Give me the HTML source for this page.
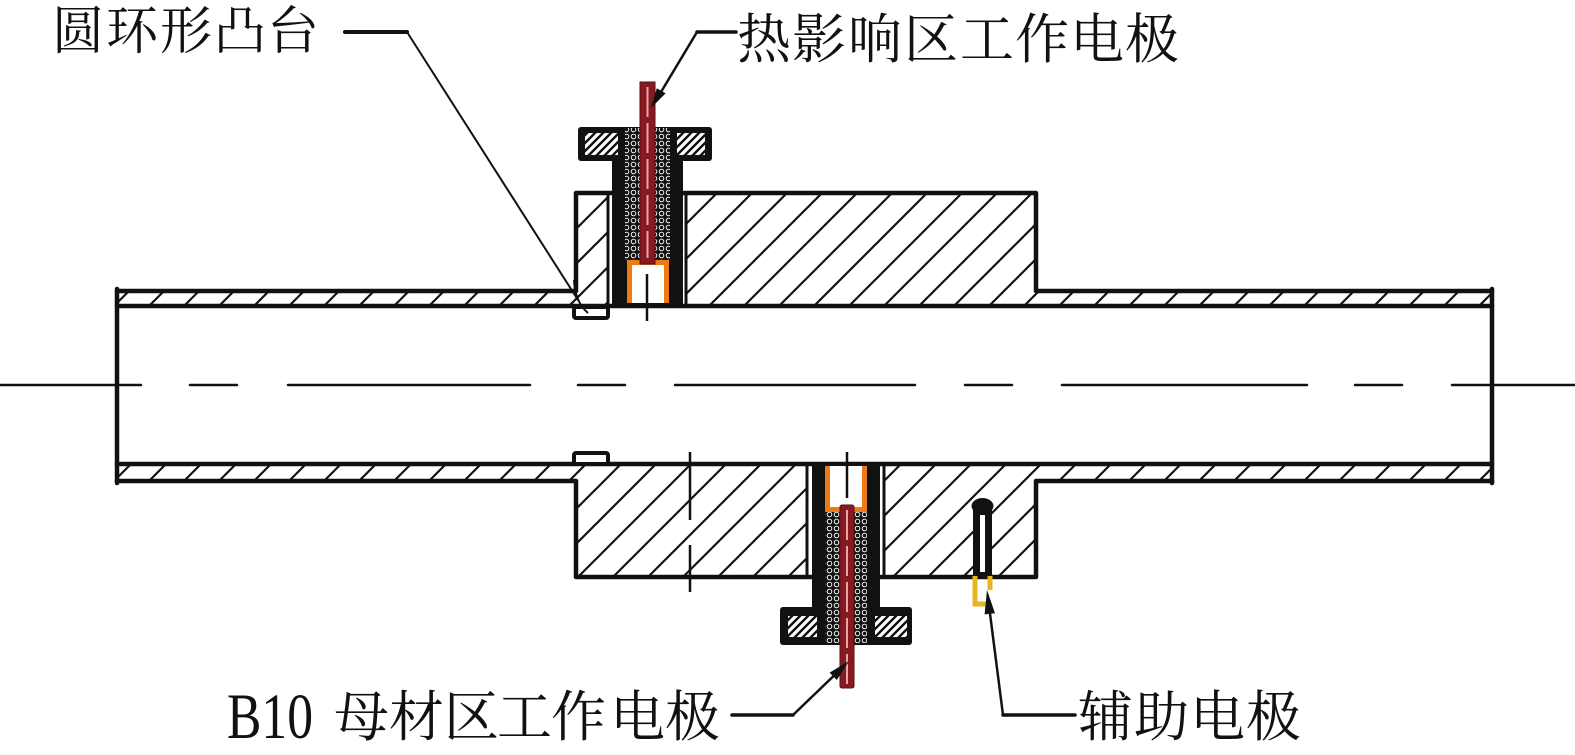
<!DOCTYPE html>
<html>
<head>
<meta charset="utf-8">
<style>
html,body{margin:0;padding:0;background:#fff;}
svg{display:block;}
text{font-family:"Liberation Serif","Noto Serif CJK SC","Noto Sans CJK SC",serif;fill:#111;}
</style>
</head>
<body>
<svg width="1575" height="755" viewBox="0 0 1575 755" xmlns="http://www.w3.org/2000/svg">
<defs>
  <pattern id="h" patternUnits="userSpaceOnUse" width="35" height="35">
    <path d="M0,35 L35,0 M-5,5 L5,-5 M30,40 L40,30" stroke="#111" stroke-width="2.2" fill="none"/>
  </pattern>
  <pattern id="hf" patternUnits="userSpaceOnUse" width="8" height="8">
    <rect width="8" height="8" fill="#fff"/>
    <path d="M0,8 L8,0 M-2,2 L2,-2 M6,10 L10,6" stroke="#111" stroke-width="2.4" fill="none"/>
  </pattern>
  <pattern id="m" patternUnits="userSpaceOnUse" width="7" height="7">
    <rect width="7" height="7" fill="#111"/>
    <circle cx="3.5" cy="3.5" r="2.3" fill="none" stroke="#fff" stroke-width="0.9"/>
  </pattern>
</defs>
<rect width="1575" height="755" fill="#fff"/>

<!-- hatch fills -->
<rect x="117" y="291" width="459" height="15" fill="url(#h)"/>
<rect x="1036" y="291" width="456" height="15" fill="url(#h)"/>
<rect x="117" y="464" width="459" height="17" fill="url(#h)"/>
<rect x="1036" y="464" width="456" height="17" fill="url(#h)"/>
<rect x="576" y="193" width="460" height="113" fill="url(#h)"/>
<rect x="576" y="464" width="460" height="113" fill="url(#h)"/>

<!-- hole clear areas -->
<rect x="608" y="193" width="78" height="113" fill="#fff"/>
<rect x="807" y="464" width="77" height="113" fill="#fff"/>

<!-- outlines -->
<g stroke="#111" stroke-width="4.5" fill="none" stroke-linejoin="round" stroke-linecap="round">
  <path d="M117,291 H576 V193 H1036 V291 H1492"/>
  <path d="M117,306 H1492"/>
  <path d="M117,464 H1492"/>
  <path d="M117,481 H576 V577 H1036 V481 H1492"/>
  <path d="M117,289 V483"/>
  <path d="M1492,289 V483"/>
</g>
<g stroke="#111" stroke-width="3" fill="none">
  <path d="M608,193 V306 M686,193 V306"/>
  <path d="M807,464 V577 M884,464 V577"/>
</g>

<!-- ring protrusions -->
<rect x="574" y="307" width="34" height="11" rx="2" fill="#fff" stroke="#111" stroke-width="4"/>
<rect x="574" y="453" width="34" height="11" rx="2" fill="#fff" stroke="#111" stroke-width="4"/>
<path d="M574,280 Q575,302 588,313" stroke="#111" stroke-width="2" fill="none"/>

<!-- top electrode assembly -->
<rect x="578" y="127" width="134" height="34" rx="3" fill="#111"/>
<rect x="612" y="158" width="71" height="146" fill="#111"/>
<rect x="585" y="133" width="33" height="22" fill="url(#hf)"/>
<rect x="677" y="133" width="28" height="22" fill="url(#hf)"/>
<rect x="625" y="128" width="45" height="132" fill="url(#m)"/>
<rect x="627" y="260" width="42" height="43" fill="#fff"/>
<path d="M629.5,303 V262.5 H666.5 V303" stroke="#ee7a16" stroke-width="5" fill="none"/>
<rect x="640" y="82" width="15" height="182" fill="#861a20" stroke="#5e0e12" stroke-width="1"/>
<line x1="647.5" y1="87" x2="647.5" y2="258" stroke="#e8a7aa" stroke-width="2" stroke-dasharray="30 6"/>
<line x1="647" y1="274" x2="647" y2="321" stroke="#111" stroke-width="2.5"/>

<!-- bottom electrode assembly -->
<rect x="780" y="607" width="132" height="38" rx="3" fill="#111"/>
<rect x="812" y="466" width="68" height="143" fill="#111"/>
<rect x="788" y="616" width="29" height="21" fill="url(#hf)"/>
<rect x="875" y="616" width="32" height="21" fill="url(#hf)"/>
<rect x="825" y="512" width="42" height="131" fill="url(#m)"/>
<rect x="825" y="466" width="42" height="46" fill="#fff"/>
<path d="M827.5,466 V509.5 H864.5 V466" stroke="#ee7a16" stroke-width="5" fill="none"/>
<rect x="840" y="505" width="14" height="183" rx="2" fill="#861a20" stroke="#5e0e12" stroke-width="1"/>
<line x1="847" y1="510" x2="847" y2="684" stroke="#e8a7aa" stroke-width="2" stroke-dasharray="30 6"/>
<line x1="847" y1="452" x2="847" y2="498" stroke="#111" stroke-width="2.5"/>

<!-- auxiliary electrode -->
<ellipse cx="982.5" cy="506" rx="11" ry="8" fill="#111"/>
<rect x="973" y="506" width="19" height="72" fill="#111"/>
<rect x="980" y="515" width="5" height="57" fill="#fff"/>
<path d="M975,576 V604 H989 M990,576 V590" stroke="#e6b520" stroke-width="5" fill="none"/>

<!-- dash-dot line in bottom flange -->
<g stroke="#111" stroke-width="2.5">
  <line x1="690" y1="452" x2="690" y2="520"/>
  <line x1="690" y1="545" x2="690" y2="592"/>
</g>

<!-- centerline -->
<g stroke="#111" stroke-width="2.5" stroke-linecap="round">
  <line x1="0" y1="385" x2="141" y2="385"/>
  <line x1="190" y1="385" x2="237" y2="385"/>
  <line x1="288" y1="385" x2="530" y2="385"/>
  <line x1="578" y1="385" x2="625" y2="385"/>
  <line x1="675" y1="385" x2="915" y2="385"/>
  <line x1="965" y1="385" x2="1012" y2="385"/>
  <line x1="1062" y1="385" x2="1307" y2="385"/>
  <line x1="1355" y1="385" x2="1402" y2="385"/>
  <line x1="1452" y1="385" x2="1575" y2="385"/>
</g>

<!-- leaders -->
<g stroke="#111" fill="none" stroke-linecap="round">
  <line x1="345" y1="32" x2="407" y2="32" stroke-width="4"/>
  <line x1="407" y1="32" x2="578" y2="300" stroke-width="2"/>
  <line x1="697" y1="32" x2="736" y2="32" stroke-width="3.5"/>
  <line x1="697" y1="32" x2="655" y2="102" stroke-width="2.5"/>
  <line x1="732" y1="715" x2="793" y2="715" stroke-width="3.5"/>
  <line x1="793" y1="715" x2="844" y2="666" stroke-width="2.5"/>
  <line x1="1003" y1="715" x2="1075" y2="715" stroke-width="3.5"/>
  <line x1="1003" y1="715" x2="988" y2="598" stroke-width="2.5"/>
</g>
<g fill="#111">
  <polygon points="651,108 665.6,93.4 656.8,88.2"/>
  <polygon points="849,661 836.8,680 829.6,672.6"/>
  <polygon points="987,590 995,613.2 984.6,614.4"/>
</g>

<!-- labels -->
<text font-size="52" y="49" x="52 106 160 214 267" style='font-family:"Noto Serif CJK SC","Noto Sans CJK SC",serif'>圆环形凸台</text>
<text font-size="54" y="58" x="737 792 848 904 960 1015 1070 1125" style='font-family:"Noto Serif CJK SC","Noto Sans CJK SC",serif'>热影响区工作电极</text>
<text font-size="65" x="227" y="738" textLength="86" lengthAdjust="spacingAndGlyphs" style='font-family:"Liberation Serif",serif'>B10</text>
<text font-size="55" y="736" x="334 389 444 497 551 610 665" style='font-family:"Noto Serif CJK SC","Noto Sans CJK SC",serif'>母材区工作电极</text>
<text font-size="55" y="736" x="1078 1134 1190 1246" style='font-family:"Noto Serif CJK SC","Noto Sans CJK SC",serif'>辅助电极</text>
</svg>
</body>
</html>
